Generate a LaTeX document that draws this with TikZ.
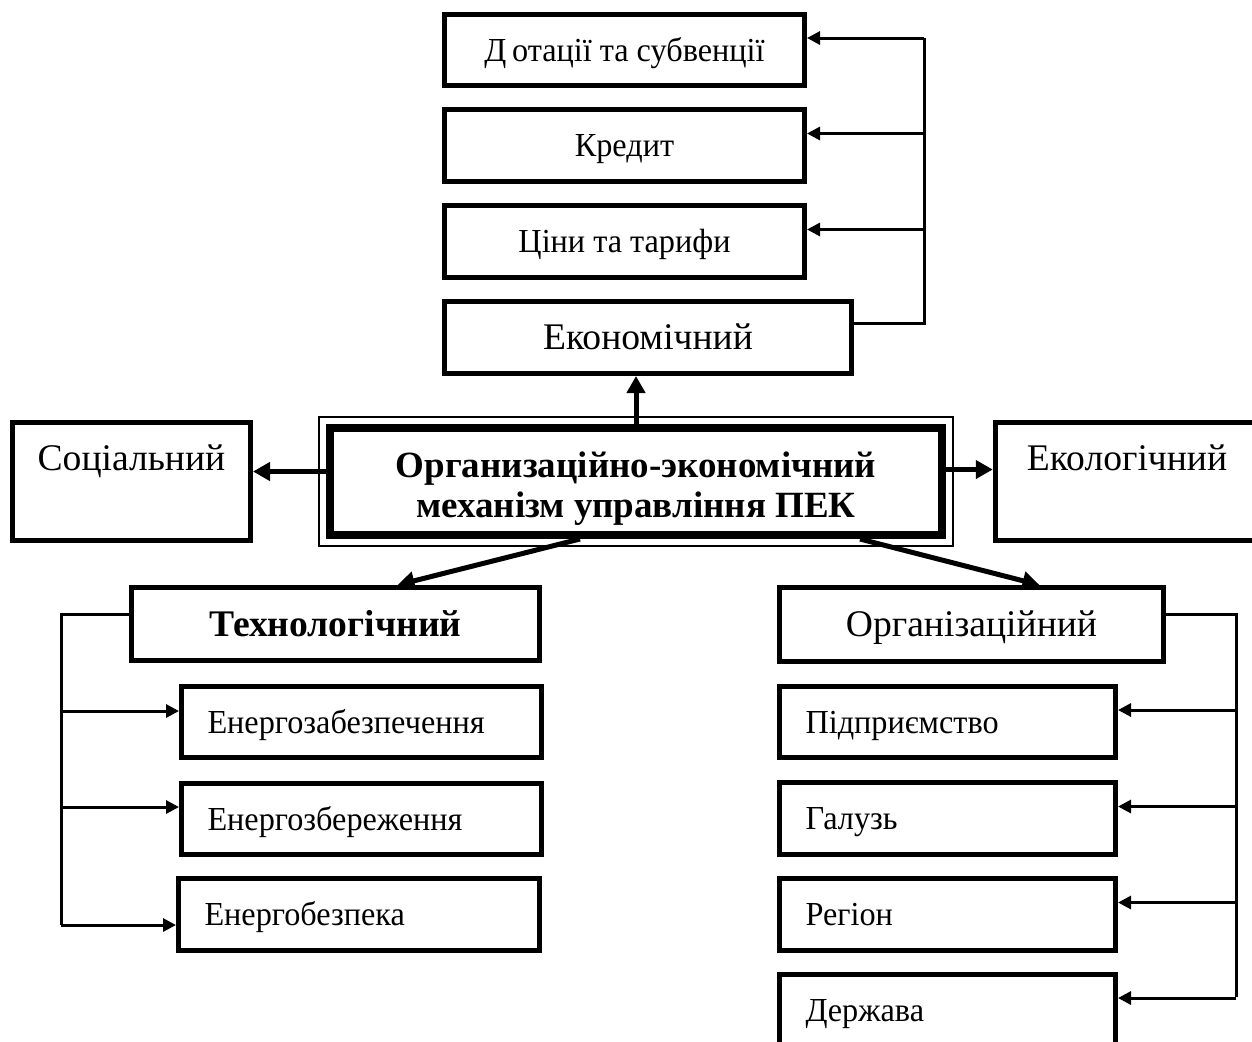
\documentclass[tikz,border=0pt]{standalone}
\usepackage{fontspec}
\setmainfont{Liberation Serif}
\newfontfamily\narrowserif{Liberation Serif}[FakeStretch=0.96]
\usetikzlibrary{arrows.meta}
\tikzset{
  box/.style={draw, line width=2.5pt, inner sep=0pt, minimum height=35.5pt,
    align=center, text height=14pt, text depth=1.6pt,
    font=\fontsize{18.8}{22}\selectfont},
  nbox/.style={box, text height=12.6pt, text depth=1.4pt,
    font=\narrowserif\fontsize{16.8}{20}\selectfont},
  lbox/.style={nbox, align=left, inner xsep=13pt, text width=#1},
  wire/.style={line width=1.5pt, -{Triangle[length=6.5pt,width=6.5pt]}},
  link/.style={line width=2.5pt, -{Triangle[length=8.5pt,width=9pt]}}
}

\begin{document}
\begin{tikzpicture}[x=0.5pt, y=-0.5pt]
  \useasboundingbox (0,0) rectangle (1252,1041);

  \node (core) [box, line width=4pt, minimum width=306pt, minimum height=53.5pt,
    text height=, text depth=, font=\bfseries\fontsize{18.5}{20}\selectfont] at (636,481.5)
    {\rule{0pt}{20.5pt}Организаційно-экономічний\\механізм управління ПЕК\rule[-5pt]{0pt}{5pt}};
  \draw[line width=0.75pt] ([shift={(-3.5pt,3.5pt)}]core.north west)
    rectangle ([shift={(3.5pt,-3.5pt)}]core.south east);

  \node (dot)  [nbox, minimum width=180pt] at (624.5,50)    {Д\,отації та субвенції};
  \node (kred) [nbox, minimum width=180pt, minimum height=36pt] at (624.5,145.5) {Кредит};
  \node (tsin) [nbox, minimum width=180pt, minimum height=36pt] at (624.5,241.5) {Ціни та тарифи};
  \node (econ) [box, minimum width=203.5pt, minimum height=36pt] at (648,337.5) {Економічний};

  \node (soc) [box, text depth=24.6pt, minimum width=119pt, minimum height=59pt] at (131.5,481.5) {Соціальний};
  \node (eco) [box, text depth=24.6pt, minimum width=131.75pt, minimum height=59pt] at (1127,481.5) {Екологічний};

  \node (tech) [box, font=\bfseries\fontsize{18.8}{22}\selectfont,
    minimum width=204pt, minimum height=36.5pt] at (335.5,624) {Технологічний};
  \node (org)  [box, minimum width=192pt, minimum height=37pt] at (971.5,624.5) {Організаційний};

  \node (ez1) [lbox=154pt] at (361.5,722) {Енергозабезпечення};
  \node (ez2) [lbox=154pt] at (361.5,819) {Енергозбереження};
  \node (ez3) [lbox=154.5pt, minimum height=36pt] at (359,914.5) {Енергобезпека};

  \node (pid) [lbox=142pt] at (947.5,722)  {Підприємство};
  \node (gal) [lbox=142pt, minimum height=36pt] at (947.5,818.5) {Галузь};
  \node (reg) [lbox=142pt, minimum height=36pt] at (947.5,914.5) {Регіон};
  \node (der) [lbox=142pt] at (947.5,1010) {Держава};

  \draw[link] (core.north) -- (core.north |- econ.south);
  \draw[link] ([yshift=5pt]core.west) -- ([yshift=5pt]soc.east);
  \draw[link] ([yshift=6pt]core.east) -- ([yshift=6pt]eco.west);
  \draw[link] ([xshift=-28pt]core.south) -- ([xshift=31pt]tech.north);
  \draw[link] ([xshift=112pt]core.south) -- ([xshift=34pt]org.north);

  \coordinate (etop) at (924,38);
  \draw[line width=1.5pt] ([yshift=7pt]econ.east) -| (etop);
  \foreach \n in {dot,kred,tsin}
    \draw[wire] ([yshift=6pt]\n.east -| etop) -- ([yshift=6pt]\n.east);

  \coordinate (tbot) at (61,925);
  \draw[line width=1.5pt] ([yshift=5pt]tech.west) -| (tbot);
  \foreach \n/\s in {ez1/5.5pt,ez2/6pt,ez3/-5.25pt}
    \draw[wire] ([yshift=\s]\n.west -| tbot) -- ([yshift=\s]\n.west);

  \coordinate (obot) at (1236,997);
  \draw[line width=1.5pt] ([yshift=5pt]org.east) -| (obot);
  \foreach \n in {pid,gal,reg,der}
    \draw[wire] ([yshift=6pt]\n.east -| obot) -- ([yshift=6pt]\n.east);
\end{tikzpicture}
\end{document}
